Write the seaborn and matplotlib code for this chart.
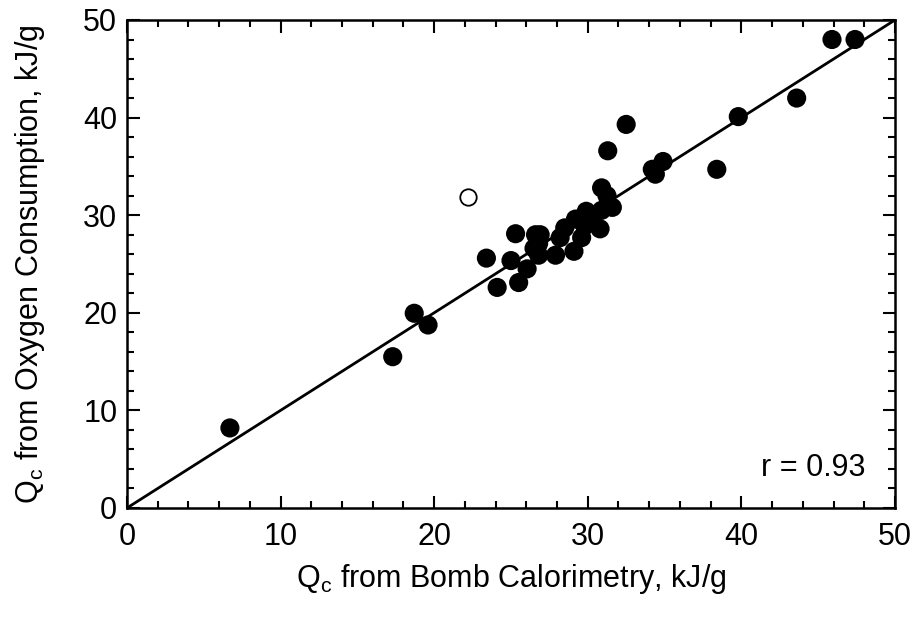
import matplotlib
matplotlib.use("Agg")
import matplotlib.pyplot as plt
import seaborn as sns
import pandas as pd
from matplotlib.ticker import MultipleLocator

# ---------------------------------------------
# Data
# ---------------------------------------------
bomb = [6.7, 17.3, 18.7, 19.6, 23.4, 24.1, 25.0, 25.3, 25.5, 26.05,
        26.5, 26.6, 26.9, 26.8, 26.8, 27.9, 28.2, 28.5, 29.1, 29.2,
        29.6, 29.8, 29.9, 30.3, 30.8, 30.9, 30.9, 31.25, 31.6, 31.3,
        32.5, 34.2, 34.4, 34.9, 38.4, 39.8, 43.6, 45.9, 47.4]
oxygen = [8.2, 15.5, 19.95, 18.75, 25.6, 22.6, 25.35, 28.1, 23.1, 24.5,
          26.6, 28.0, 28.0, 25.9, 27.1, 25.9, 27.7, 28.7, 26.3, 29.6,
          27.7, 28.9, 30.4, 29.4, 28.6, 30.5, 32.8, 32.0, 30.8, 36.6,
          39.3, 34.7, 34.2, 35.5, 34.7, 40.1, 42.0, 48.0, 48.0]

# open symbol (excluded point)
open_bomb = [22.2]
open_oxygen = [31.9]

# fitted line
fit_x = [0, 50]
fit_y = [0, 50]
r_value = 0.93

df = pd.DataFrame({'bomb': bomb, 'oxygen': oxygen})
df_open = pd.DataFrame({'bomb': open_bomb, 'oxygen': open_oxygen})
df_fit = pd.DataFrame({'x': fit_x, 'y': fit_y})

# ---------------------------------------------
# Plot
# ---------------------------------------------
sns.set_style("ticks")
plt.rcParams['font.family'] = ['Liberation Sans', 'DejaVu Sans']
plt.rcParams['mathtext.default'] = 'regular'
for key in ['text.color', 'axes.labelcolor', 'xtick.color', 'ytick.color',
            'axes.edgecolor']:
    plt.rcParams[key] = 'black'

fs = 22

fig = plt.figure(figsize=(9.15, 6.17), dpi=100)
ax = fig.add_axes([0.1388, 0.1767, 0.8393, 0.7909])

sns.lineplot(data=df_fit, x='x', y='y', color='black', linewidth=2.0, ax=ax)
sns.scatterplot(data=df, x='bomb', y='oxygen', color='black', s=190,
                edgecolor='none', ax=ax, zorder=3)
sns.scatterplot(data=df_open, x='bomb', y='oxygen', facecolor='white',
                edgecolor='black', linewidth=1.3, s=140, ax=ax, zorder=3)

ax.set_xlim(0, 50)
ax.set_ylim(0, 50)
ax.xaxis.set_major_locator(MultipleLocator(10))
ax.xaxis.set_minor_locator(MultipleLocator(2))
ax.yaxis.set_major_locator(MultipleLocator(10))
ax.yaxis.set_minor_locator(MultipleLocator(2))
ax.tick_params(which='both', direction='in', top=True, right=True,
               labelsize=fs, width=1.5)
ax.tick_params(axis='x', which='major', pad=10)
ax.tick_params(axis='y', which='major', pad=7)
ax.tick_params(which='major', length=9)
ax.tick_params(which='minor', length=5)
for sp in ax.spines.values():
    sp.set_linewidth(1.8)

ax.set_xlabel('Q$_c$ from Bomb Calorimetry, kJ/g', fontsize=fs, labelpad=7)
ax.set_ylabel('Q$_c$ from Oxygen Consumption, kJ/g', fontsize=fs, labelpad=26)

ax.text(0.961, 0.082, f'r = {r_value:.2f}', transform=ax.transAxes,
        ha='right', va='center', fontsize=fs)

fig.savefig('out.png', dpi=100)
